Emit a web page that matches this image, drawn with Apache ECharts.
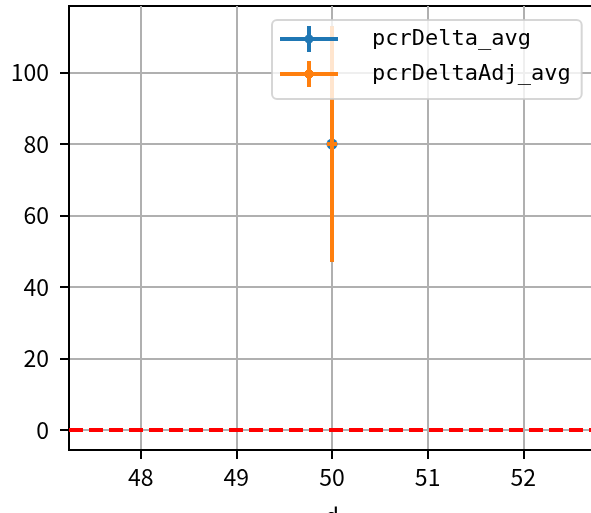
<!DOCTYPE html>
<html>
<head>
<meta charset="utf-8">
<script src="https://cdn.jsdelivr.net/npm/echarts@6/dist/echarts.min.js"></script>
<style>
  html, body { margin: 0; padding: 0; background: #fff; }
  #chart { width: 591px; height: 513px; }
</style>
</head>
<body>
<div id="chart"></div>
<script>
// values
var dValues = [50];
var pcrDeltaAvg = [80];
var pcrDeltaErr = [33];
var pcrDeltaAdjAvg = [80];
var pcrDeltaAdjErr = [33];
var xTicks = [48, 49, 50, 51, 52];
var yTicks = [0, 20, 40, 60, 80, 100];
var refLine = [0];

var blue = "#1f77b4";
var orange = "#ff7f0e";
var tickFont = "Noto Sans CJK SC";

function rows(xs, ys, es) {
  var out = [];
  for (var i = 0; i < xs.length; i++) {
    out.push([xs[i], ys[i], es[i]]);
  }
  return out;
}

// vertical error bar plus a marker
function errRender(color, marker) {
  return function (params, api) {
    var x = api.value(0), y = api.value(1), e = api.value(2);
    var top = api.coord([x, y + e]);
    var bot = api.coord([x, y - e]);
    var c = api.coord([x, y]);
    var kids = [
      {
        type: "line",
        shape: { x1: top[0], y1: top[1], x2: bot[0], y2: bot[1] },
        style: { stroke: color, lineWidth: 4 },
      },
    ];
    if (marker === "circle") {
      kids.push({
        type: "circle",
        shape: { cx: c[0], cy: c[1], r: 5.5 },
        style: { fill: color },
      });
    } else {
      kids.push({
        type: "line",
        shape: { x1: c[0] - 5, y1: c[1], x2: c[0] + 5, y2: c[1] },
        style: { stroke: color, lineWidth: 4 },
      });
    }
    return { type: "group", children: kids };
  };
}

var iconBlue =
  "path://M0 11H58V15H0Z M27 0H31V26H27Z M24.5 13A4.5 4.5 0 1 1 33.5 13A4.5 4.5 0 1 1 24.5 13Z";
var iconOrange =
  "path://M0 11H58V15H0Z M27 0H31V26H27Z M26 9H32V17H26Z M25 10H33V16H25Z";

var myChart = echarts.init(document.getElementById("chart"), null, { renderer: "canvas" });
myChart.setOption({
  animation: false,
  color: [blue, orange],
  grid: {
    left: 69,
    right: -4,
    top: 6,
    bottom: 63,
    show: true,
    borderColor: "#000",
    borderWidth: 2,
    backgroundColor: "transparent",
    outerBoundsMode: "none",
  },
  legend: {
    orient: "vertical",
    left: 272,
    top: 20,
    z: 10,
    padding: [6, 11, 12, 8],
    itemWidth: 58,
    itemHeight: 26,
    itemGap: 9,
    backgroundColor: "rgba(255,255,255,0.8)",
    borderColor: "rgba(204,204,204,0.8)",
    borderWidth: 2,
    borderRadius: 5,
    textStyle: {
      fontFamily: "DejaVu Sans Mono",
      fontSize: 22,
      color: "#000",
      lineHeight: 26,
      padding: [0, 0, 0, 29],
    },
    data: [
      { name: "pcrDelta_avg", icon: iconBlue },
      { name: "pcrDeltaAdj_avg", icon: iconOrange },
    ],
  },
  xAxis: {
    type: "value",
    min: 47.25,
    max: 52.75,
    name: "d",
    nameLocation: "middle",
    nameGap: 55,
    nameTextStyle: { fontFamily: tickFont, fontSize: 23, color: "#000" },
    axisLine: { onZero: false, lineStyle: { color: "#000", width: 2 } },
    axisTick: { show: true, length: 9, lineStyle: { color: "#000", width: 2 }, customValues: xTicks },
    axisLabel: { margin: 16, fontFamily: tickFont, fontSize: 23, color: "#000", customValues: xTicks },
    splitLine: { show: true, lineStyle: { color: "#b0b0b0", width: 2 } },
  },
  yAxis: {
    type: "value",
    min: -5.65,
    max: 118.65,
    axisLine: { onZero: false, lineStyle: { color: "#000", width: 2 } },
    axisTick: { show: true, length: 9, lineStyle: { color: "#000", width: 2 }, customValues: yTicks },
    axisLabel: { margin: 20, fontFamily: tickFont, fontSize: 23, color: "#000", customValues: yTicks },
    splitLine: { show: true, lineStyle: { color: "#b0b0b0", width: 2 } },
  },
  series: [
    {
      name: "zero",
      type: "line",
      data: [],
      silent: true,
      z: 2,
      markLine: {
        silent: true,
        symbol: "none",
        label: { show: false },
        lineStyle: { color: "#ff0000", type: [14, 6], width: 4 },
        data: refLine.map(function (v) { return { yAxis: v }; }),
      },
    },
    {
      name: "pcrDelta_avg",
      type: "custom",
      itemStyle: { color: blue },
      renderItem: errRender(blue, "circle"),
      data: rows(dValues, pcrDeltaAvg, pcrDeltaErr),
      z: 2,
    },
    {
      name: "pcrDeltaAdj_avg",
      type: "custom",
      itemStyle: { color: orange },
      renderItem: errRender(orange, "plus"),
      data: rows(dValues, pcrDeltaAdjAvg, pcrDeltaAdjErr),
      z: 3,
    },
  ],
});
</script>
</body>
</html>
